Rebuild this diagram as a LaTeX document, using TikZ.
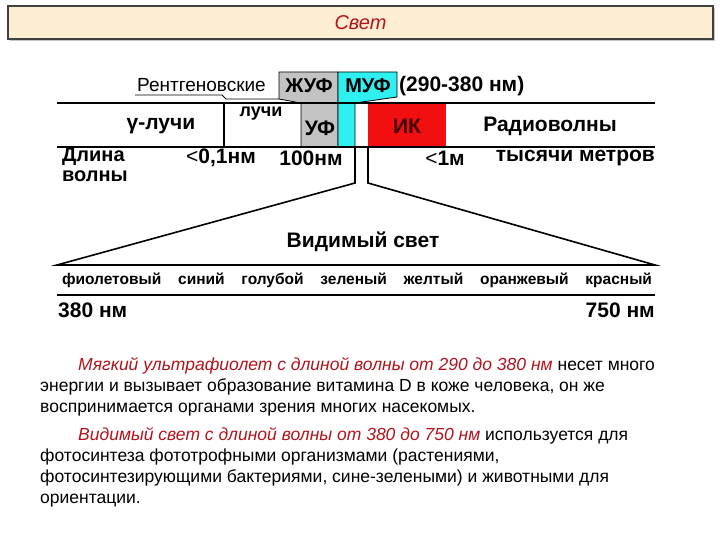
\documentclass[tikz,border=0pt]{standalone}
\usepackage{fontspec}
\setmainfont{Liberation Sans}
\usetikzlibrary{positioning,shadows}
\definecolor{titlefill}{HTML}{FDEED3}
\definecolor{titleline}{HTML}{404040}
\definecolor{darkred}{HTML}{B3131B}
\definecolor{uvgrey}{HTML}{C3C3C3}
\definecolor{uvcyan}{HTML}{2EF0F0}
\definecolor{irred}{HTML}{F20F0F}
\tikzset{
    titlebox/.style={
           rectangle,
           draw=titleline, line width=1.2pt,
           fill=titlefill,
           minimum width=705pt,
           minimum height=33pt,
           drop shadow={shadow xshift=2pt,shadow yshift=-2pt,fill=black!45},
           font=\fontsize{20}{20}\selectfont\itshape,
           text=darkred
           },
    band/.style={
           inner sep=0pt,
           font=\fontsize{21}{21}\selectfont\bfseries
           },
    thinlabel/.style={
           inner sep=0pt,
           font=\fontsize{18}{18}\selectfont\bfseries
           },
    colourrow/.style={
           inner sep=0pt,
           font=\fontsize{15.5}{15.5}\selectfont\bfseries
           },
    bar/.style={line width=1.6pt},
    region/.style={draw=black, line width=0.8pt},
    textline/.style={
           anchor=base west,
           inner sep=0pt,
           font=\fontsize{17.5}{17.5}\selectfont
           },
}

\begin{document}
\begin{tikzpicture}[x=1pt,y=-1pt]
  \useasboundingbox (0,0) rectangle (720,540);
  \node[titlebox] (title) at (360.5,22.5) {Свет};

  % spectrum bands
  \path[region,fill=uvgrey] (279,72) -- (338,72) -- (338,147) -- (301,147) -- (301,103) -- (279,99) -- cycle;
  \path[region,fill=uvcyan] (338,72) -- (397,72) -- (397,97) -- (355,103) -- (355,147) -- (338,147) -- cycle;
  \path[fill=irred] (368,103) rectangle (446,147);

  \coordinate (topl) at (57,103);
  \coordinate (topr) at (655,103);
  \coordinate (midl) at (57,147);
  \coordinate (midr) at (655,147);
  \draw[bar] (topl) -- (topr);
  \draw[bar] (midl) -- (midr);
  \draw[bar] (224,103) -- (224,147);
  \draw[line width=0.9pt] (135,95) -- (222,95) -- (226,99) -- (279,99);

  \node[thinlabel,anchor=west,font=\fontsize{19}{19}\selectfont] (xray) at (137,85) {Рентгеновские};
  \node[band,font=\fontsize{20}{20}\selectfont\bfseries] (euv) at (309,86) {ЖУФ};
  \node[band,font=\fontsize{20}{20}\selectfont\bfseries] (muv) at (368,86) {МУФ};
  \node[band,anchor=west] (muvrange) at (399,86) {(290-380 нм)};
  \node[band] (gamma)    at (161,126) {γ-лучи};
  \node[thinlabel] (rays) at (261,114) {лучи};
  \node[band] (uv)       at (320,128) {УФ};
  \node[band,text=black!75!red] (ir) at (407,126) {ИК};
  \node[band] (radio)    at (550,126) {Радиоволны};

  \node[band,anchor=west,font=\fontsize{20}{20}\selectfont\bfseries] (length) at (62,157) {Длина};
  \node[band,font=\fontsize{20}{20}\selectfont\bfseries,below right=4pt and 0pt of length.south west] (wave) {волны};
  \node[band] (lt01)     at (221,158) {{\mdseries<}0,1нм};
  \node[band] (nm100)    at (311,158) {100нм};
  \node[band] (lt1m)     at (445,158) {{\mdseries<}1м};
  \node[band,anchor=east] (km) at (655,158) {тысячи метров};

  % visible range
  \coordinate (fanl) at (355,147);
  \coordinate (fanr) at (368,147);
  \coordinate (kinkl) at (355,183);
  \coordinate (kinkr) at (368,183);
  \coordinate (basel) at (57,265);
  \coordinate (baser) at (655,265);
  \draw[bar] (fanl) -- (kinkl) -- (basel) -- (baser) -- (kinkr) -- (fanr);
  \draw[bar] (57,295) -- (655,295);

  \node[band] (visible) at (363,242) {Видимый свет};
  \node[colourrow] (colours) at (357,280) {\makebox[590pt][s]{фиолетовый синий голубой зеленый желтый оранжевый красный}};
  \node[band,anchor=west] (nm380) at (58,310) {380 нм};
  \node[band,anchor=east] (nm750) at (655,310) {750 нм};

  % text
  \node[textline] (p1) at (78,370) {\textcolor{darkred}{\itshape Мягкий ультрафиолет с длиной волны от 290 до 380 нм} несет много};
  \node[textline] (p2) at (40,391) {энергии и вызывает образование витамина D в коже человека, он же};
  \node[textline] (p3) at (40,412) {воспринимается органами зрения многих насекомых.};
  \node[textline] (p4) at (78,440) {\textcolor{darkred}{\itshape Видимый свет с длиной волны от 380 до 750 нм} используется для};
  \node[textline] (p5) at (40,461) {фотосинтеза фототрофными организмами (растениями,};
  \node[textline] (p6) at (40,482) {фотосинтезирующими бактериями, сине-зелеными) и животными для};
  \node[textline] (p7) at (40,503) {ориентации.};
\end{tikzpicture}
\end{document}
